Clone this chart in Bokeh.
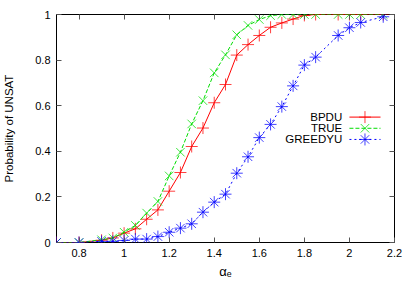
from bokeh.plotting import figure
from bokeh.models import LinearAxis, Range1d, FixedTicker
from bokeh.core.properties import value
from bokeh.embed import file_html
from bokeh.resources import INLINE

alpha = [0.7, 0.8, 0.9, 0.95, 1.0, 1.05, 1.1, 1.15, 1.2, 1.25, 1.3, 1.35, 1.4,
         1.45, 1.5, 1.55, 1.6, 1.65, 1.7, 1.75, 1.8, 1.85, 1.95, 2.0, 2.05, 2.15]
bpdu = [0.0, 0.0, 0.01, 0.02, 0.041, 0.06, 0.102, 0.143, 0.225, 0.307, 0.421, 0.502,
        0.613, 0.693, 0.822, 0.868, 0.908, 0.944, 0.963, 0.98, 0.996, 1.0, 1.0, 1.0, 1.0, 1.0]
true_ = [0.0, 0.0, 0.012, 0.02, 0.045, 0.075, 0.129, 0.18, 0.292, 0.396, 0.52, 0.622,
         0.744, 0.823, 0.911, 0.952, 0.978, 0.995, 1.0, 1.0, 1.0, 1.0, 1.0, 1.0, 1.0, 1.0]
greedyu = [0.0, 0.0, 0.005, 0.005, 0.009, 0.015, 0.015, 0.026, 0.045, 0.063, 0.082, 0.133,
           0.177, 0.212, 0.304, 0.376, 0.46, 0.518, 0.596, 0.687, 0.778, 0.813, 0.908,
           0.942, 0.965, 0.99]

x_ticks = [0.8, 1.0, 1.2, 1.4, 1.6, 1.8, 2.0, 2.2]
y_ticks = [0, 0.2, 0.4, 0.6, 0.8, 1]
names = ["BPDU", "TRUE", "GREEDYU"]

FONT = "Liberation Sans"

p = figure(frame_width=338, frame_height=228, output_backend="svg", toolbar_location=None,
           x_range=Range1d(0.7, 2.2), y_range=Range1d(0, 1),
           min_border_left=56, min_border_right=21, min_border_top=14, min_border_bottom=49,
           x_axis_label="αₑ", y_axis_label="Probability of UNSAT")
p.grid.visible = False
p.outline_line_color = "black"
p.outline_line_width = 1
p.background_fill_color = "white"
p.border_fill_color = "white"

for ax in (p.xaxis[0], p.yaxis[0]):
    ax.axis_line_color = None
    ax.major_tick_in = 5
    ax.major_tick_out = 0
    ax.minor_tick_line_color = None
    ax.major_tick_line_color = "#555555"
    ax.major_label_text_font = FONT
    ax.major_label_text_font_size = "11px"
    ax.major_label_text_color = "black"
    ax.major_label_standoff = 6
    ax.axis_label_text_font = FONT
    ax.axis_label_text_font_style = "normal"
    ax.axis_label_text_color = "black"
p.xaxis[0].ticker = FixedTicker(ticks=x_ticks)
p.yaxis[0].ticker = FixedTicker(ticks=y_ticks)
p.yaxis[0].axis_label_text_font_size = "11.5px"
p.yaxis[0].axis_label_standoff = 17
p.xaxis[0].axis_label_text_font_size = "13px"
p.xaxis[0].axis_label_standoff = 4

for loc, ticks in (("above", x_ticks), ("right", y_ticks)):
    ax = LinearAxis(ticker=FixedTicker(ticks=ticks))
    ax.axis_line_color = None
    ax.major_tick_in = 5
    ax.major_tick_out = 0
    ax.minor_tick_line_color = None
    ax.major_tick_line_color = "#555555"
    ax.major_label_overrides = {t: "" for t in ticks}
    ax.major_label_standoff = 0
    p.add_layout(ax, loc)

series = [
    (bpdu, "#ff0000", "solid", "cross"),
    (true_, "#00dd00", "4 2", "x"),
    (greedyu, "#0000ff", "2 3", "asterisk"),
]
for ys, col, dash, mk in series:
    p.line(alpha, ys, line_color=col, line_width=1, line_dash=dash)
    p.scatter(alpha, ys, marker=mk, size=12, line_color=col, line_width=1, line_alpha=0.75)

# key (gnuplot style: label right-aligned, sample to the right)
key_y = [0.55, 0.501, 0.452]
key_text_x = 1.968
key_x0, key_x1 = 2.0, 2.138
for (ys, col, dash, mk), ky, nm in zip(series, key_y, names):
    p.text([key_text_x], [ky], text=[nm], text_align="right", text_baseline="middle",
           text_font=value(FONT), text_font_size="11.5px", text_color="black")
    p.line([key_x0, key_x1], [ky, ky], line_color=col, line_width=1, line_dash=dash)
    p.scatter([(key_x0 + key_x1) / 2], [ky], marker=mk, size=12, line_color=col,
              line_width=1, line_alpha=0.75)

open("out.html", "w").write(file_html(p, INLINE))
